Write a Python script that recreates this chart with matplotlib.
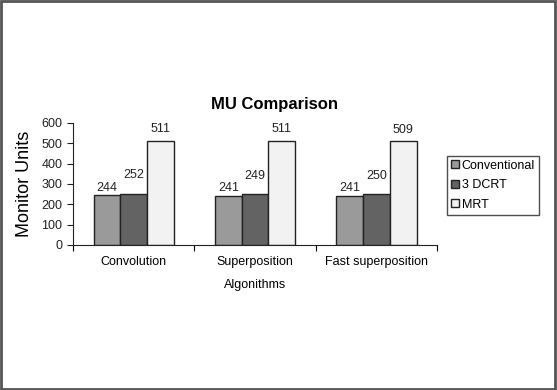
import matplotlib
matplotlib.use("Agg")
import matplotlib.pyplot as plt
import numpy as np
from matplotlib.patches import Rectangle

categories = ["Convolution", "Superposition", "Fast superposition"]
series_names = ["Conventional", "3 DCRT", "MRT"]
conventional = [244, 241, 241]
dcrt = [252, 249, 250]
mrt = [511, 511, 509]
colors = ["#9a9a9a", "#636363", "#f2f2f2"]
label_offsets = [1, 9, 4]

plt.rcParams['font.family'] = ['Liberation Sans', 'DejaVu Sans']

fig = plt.figure(figsize=(5.57, 3.9), dpi=100)
fig.patch.set_facecolor("white")
fig.add_artist(Rectangle((0.002, 0.003), 0.995, 0.994, transform=fig.transFigure,
                         fill=False, edgecolor="#555555", linewidth=2))

ax = fig.add_axes([0.131, 0.372, 0.654, 0.313])
x = np.arange(len(categories))
w = 0.22
for i, (vals, name, c, off) in enumerate(zip([conventional, dcrt, mrt], series_names, colors, label_offsets)):
    pos = x + (i - 1) * w
    ax.bar(pos, vals, width=w, color=c, edgecolor="#222222", linewidth=1, label=name)
    for p, v in zip(pos, vals):
        ax.annotate(str(v), (p, v), xytext=(0, off), textcoords="offset points",
                    ha="center", va="bottom", fontsize=9, color="#222222")

ax.set_xlim(-0.5, 2.5)
ax.set_ylim(0, 600)
ax.set_yticks(range(0, 601, 100))
ax.tick_params(axis="y", labelsize=9, length=4, direction="out", colors="#222222")
ax.set_xticks([-0.5, 0.5, 1.5, 2.5])
ax.set_xticklabels([])
ax.tick_params(axis="x", which="major", length=4, direction="out")
ax.set_xticks(x, minor=True)
ax.set_xticklabels(categories, minor=True, fontsize=9)
ax.tick_params(axis="x", which="minor", length=0, pad=8)
for s in ["top", "right"]:
    ax.spines[s].set_visible(False)
ax.spines["left"].set_color("#222222")
ax.spines["bottom"].set_color("#222222")
ax.set_ylabel("Monitor Units", fontsize=13, labelpad=6)
ax.set_xlabel("Algonithms", fontsize=9, labelpad=8)

fig.text(0.493, 0.733, "MU Comparison", ha="center", va="center", fontsize=12, fontweight="bold")

leg = fig.legend(loc="upper left", bbox_to_anchor=(0.803, 0.6), fontsize=9,
                 frameon=True, fancybox=False, edgecolor="#222222",
                 handlelength=0.6, handleheight=0.6, handletextpad=0.25,
                 borderpad=0.3, borderaxespad=0, labelspacing=0.6)
leg.get_frame().set_linewidth(1)

fig.savefig("out.png", dpi=100)
